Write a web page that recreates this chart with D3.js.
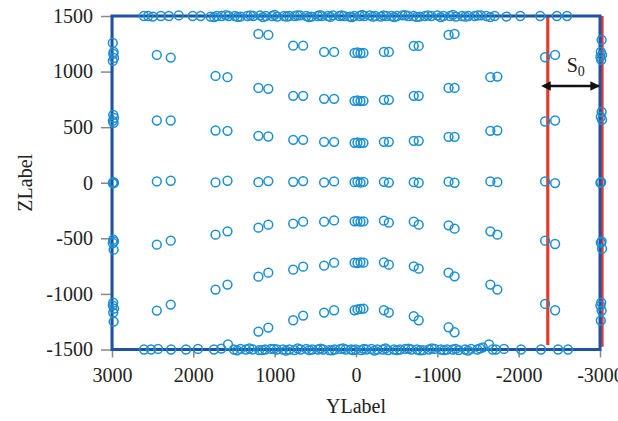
<!DOCTYPE html>
<html>
<head>
<meta charset="utf-8">
<script src="https://cdn.jsdelivr.net/npm/d3@7"></script>
<style>
  html, body { margin: 0; padding: 0; background: #fff; }
  svg text { font-family: "Liberation Serif", "DejaVu Serif", serif; fill: #222; }
</style>
</head>
<body>
<svg id="chart" width="618" height="421"></svg>
<script>
// tick labels
const yTicks = [3000, 2000, 1000, 0, -1000, -2000, -3000];
const zTicks = [1500, 1000, 500, 0, -500, -1000, -1500];

// Y of the inner point columns (pairs, plus the centre cluster)
const colY = [2449, 2278, 1727, 1580, 1200, 1078, 772, 650, 392, 269,
  18, -18, -55, -92, -343, -404, -710, -771, -1138, -1212, -1652, -1738, -2325, -2448];

// Z of each ring row for every column (null = no point)
const zTop3 = [null, null, null, null, 1339, 1330, 1233, 1233, 1177, 1177,
  1168, 1172, 1165, 1168, 1177, 1177, 1231, 1231, 1330, 1339, null, null, null, null];
const zTop2 = [1150, 1126, 961, 950, 853, 845, 782, 782, 755, 755,
  737, 740, 735, 737, 746, 746, 782, 782, 853, 853, 950, 955, 1129, 1150];
const zTop1 = [560, 560, 470, 467, 422, 416, 386, 386, 368, 368,
  359, 362, 356, 359, 368, 368, 377, 377, 413, 413, 467, 470, 551, 560];
const zMid = [12, 18, 3, 18, 5, 15, 8, 15, 3, 12,
  5, 10, 2, 8, 8, 2, 5, 0, 10, 0, 12, 5, 12, -3];
const zBot1 = [-557, -521, -467, -437, -404, -377, -368, -350, -350, -339,
  -347, -345, -350, -347, -341, -359, -350, -377, -383, -413, -437, -467, -521, -551];
const zBot2 = [-1150, -1096, -961, -916, -845, -809, -782, -755, -746, -719,
  -719, -722, -716, -719, -716, -737, -752, -773, -809, -842, -916, -961, -1090, -1147];
const zBot3 = [null, null, null, null, -1339, -1303, -1237, -1195, -1168, -1147,
  -1147, -1140, -1135, -1132, -1147, -1168, -1201, -1237, -1300, -1345, null, null, null, null];

// points stacked on the left and right walls
const leftEdgeY = [2990, 2980, 2985, 2975, 2990, 2985, 2975, 2990, 2980, 2985, 2975, 2990,
  2985, 2975, 2990, 2980, 2985, 2990, 2975, 2985, 2980];
const leftEdgeZ = [1258, 1177, 1159, 1123, 1096, 611, 584, 557, 539, 5, 0,
  -5, -512, -527, -542, -602, -1078, -1105, -1132, -1168, -1249];
const rightEdgeY = [-3020, -3010, -3025, -3005, -3015, -3020, -3010, -3025, -3015, -3005,
  -3020, -3010, -3025, -3015, -3005, -3020, -3010];
const rightEdgeZ = [1285, 1177, 1150, 1132, 1105, 638, 593, 566, 5, 0,
  -527, -539, -593, -1078, -1105, -1150, -1240];

// points along the top and bottom walls
const topEdgeY = [2608, 2555, 2498, 2400, 2302, 2180, 2008, 1911, 1788, 1712, 1650, 1566, 1490,
  1421, 1335, 1262, 1180, 1108, 1032, 968, 885, 821, 752, 688, 611, 548, 470, 418, 346, 282,
  205, 148, 77, 22, -46, -104, -171, -238, -305, -372, -436, -503, -571, -640, -706, -781,
  -848, -925, -1002, -1076, -1155, -1228, -1305, -1382, -1458, -1534, -1603, -1705, -1850,
  -2020, -2265, -2470, -2595];
const topEdgeZ = [1500, 1500, 1495, 1500, 1500, 1505, 1500, 1500, 1495, 1500, 1500, 1500, 1500,
  1495, 1500, 1500, 1505, 1500, 1500, 1495, 1500, 1500, 1500, 1505, 1500, 1495, 1500, 1500,
  1500, 1505, 1500, 1500, 1495, 1500, 1500, 1500, 1505, 1500, 1495, 1500, 1500, 1500, 1505,
  1500, 1500, 1495, 1500, 1500, 1505, 1500, 1500, 1495, 1500, 1500, 1500, 1505, 1500, 1500,
  1495, 1500, 1500, 1500, 1500];
// extra points in the crowded middle part of the top wall
const topDenseY = [1745, 1602, 1455, 1298, 1144, 1000, 853, 720, 580, 444, 314, 176, 50,
  -75, -205, -338, -470, -605, -744, -885, -1040, -1192, -1344, -1496, -1650];
const topDenseZ = [1490, 1508, 1492, 1506, 1490, 1510, 1494, 1506, 1490, 1508, 1492, 1506,
  1490, 1510, 1494, 1506, 1490, 1508, 1492, 1506, 1490, 1510, 1494, 1506, 1490];

const bottomEdgeY = [2606, 2520, 2434, 2274, 2090, 1943, 1746, 1574, 1500, 1420, 1352, 1268,
  1190, 1118, 1046, 974, 898, 820, 756, 682, 610, 540, 468, 404, 330, 262, 190, 128, 60, 4,
  -62, -128, -190, -262, -330, -396, -468, -540, -606, -680, -752, -826, -898, -968, -1044,
  -1118, -1190, -1262, -1340, -1416, -1492, -1560, -1636, -1720, -1820, -2030, -2275, -2485, -2607];
const bottomEdgeZ = [-1500, -1500, -1495, -1500, -1500, -1495, -1500, -1455, -1500, -1495,
  -1500, -1500, -1505, -1500, -1495, -1500, -1500, -1500, -1505, -1500, -1495, -1500, -1500,
  -1500, -1505, -1500, -1495, -1500, -1500, -1500, -1505, -1500, -1495, -1500, -1500, -1505,
  -1500, -1500, -1495, -1500, -1500, -1505, -1500, -1495, -1500, -1500, -1500, -1505, -1500,
  -1495, -1500, -1480, -1455, -1500, -1495, -1500, -1500, -1500, -1500];
const bottomDenseY = [1656, 1460, 1310, 1154, 1010, 860, 718, 575, 436, 296, 159, 32,
  -95, -226, -363, -504, -643, -789, -933, -1081, -1226, -1378, -1526, -1680];
const bottomDenseZ = [-1492, -1508, -1490, -1506, -1494, -1510, -1490, -1506, -1492, -1508,
  -1490, -1506, -1494, -1510, -1490, -1506, -1492, -1508, -1490, -1506, -1494, -1510, -1490, -1500];

// annotation: S0 spacing between the two red lines
const s0Left = -2358;
const s0Right = -3025;
const s0RedTopZ = 1500;
const s0RedBottomZ = [-1460, -1475];
const s0ArrowZ = 870;
const s0LabelY = -2590;
const s0LabelZ = 1000;

// collect all points
const points = [];
[zTop3, zTop2, zTop1, zMid, zBot1, zBot2, zBot3].forEach(row => {
  row.forEach((z, i) => { if (z !== null) points.push({ y: colY[i], z: z }); });
});
leftEdgeZ.forEach((z, i) => points.push({ y: leftEdgeY[i], z: z }));
rightEdgeZ.forEach((z, i) => points.push({ y: rightEdgeY[i], z: z }));
topEdgeY.forEach((y, i) => points.push({ y: y, z: topEdgeZ[i] }));
topDenseY.forEach((y, i) => points.push({ y: y, z: topDenseZ[i] }));
bottomEdgeY.forEach((y, i) => points.push({ y: y, z: bottomEdgeZ[i] }));
bottomDenseY.forEach((y, i) => points.push({ y: y, z: bottomDenseZ[i] }));

const svg = d3.select('#chart');

const x = d3.scaleLinear().domain([3000, -3000]).range([112, 600]);
const y = d3.scaleLinear().domain([-1500, 1500]).range([349.5, 16]);

// axes (gray)
const xAxis = svg.append('g')
  .attr('transform', `translate(0,${y(-1500)})`)
  .call(d3.axisBottom(x).tickValues(yTicks).tickFormat(d => String(d)).tickSize(8).tickSizeOuter(0).tickPadding(10));
const zAxis = svg.append('g')
  .attr('transform', `translate(${x(3000)},0)`)
  .call(d3.axisLeft(y).tickValues(zTicks).tickFormat(d => String(d)).tickSize(11).tickSizeOuter(0).tickPadding(8));

[xAxis, zAxis].forEach(g => {
  g.select('.domain').attr('stroke', '#888').attr('stroke-width', 1.5);
  g.selectAll('.tick line').attr('stroke', '#888').attr('stroke-width', 1.5);
  g.selectAll('.tick text')
    .attr('font-family', '"Liberation Serif", serif')
    .attr('font-size', 20)
    .attr('fill', '#222');
});

// red S0 lines
svg.append('line')
  .attr('x1', x(s0Left)).attr('x2', x(s0Left))
  .attr('y1', y(s0RedTopZ)).attr('y2', y(s0RedBottomZ[0]))
  .attr('stroke', '#e8392b').attr('stroke-width', 3.2);
svg.append('line')
  .attr('x1', x(s0Right)).attr('x2', x(s0Right))
  .attr('y1', y(s0RedTopZ)).attr('y2', y(s0RedBottomZ[1]))
  .attr('stroke', '#e8392b').attr('stroke-width', 3.2);

// blue frame
svg.append('rect')
  .attr('x', x(3000)).attr('y', y(1500))
  .attr('width', x(-3000) - x(3000))
  .attr('height', y(-1500) - y(1500))
  .attr('fill', 'none')
  .attr('stroke', '#1f52a3')
  .attr('stroke-width', 3);

// points
svg.append('g')
  .selectAll('circle')
  .data(points)
  .enter()
  .append('circle')
  .attr('cx', d => x(d.y))
  .attr('cy', d => y(d.z))
  .attr('r', 4.4)
  .attr('fill', 'none')
  .attr('stroke', '#1a8fd3')
  .attr('stroke-width', 1.5);

// double arrow
const defs = svg.append('defs');
['start', 'end'].forEach(k => {
  defs.append('marker')
    .attr('id', 'arr-' + k)
    .attr('viewBox', '0 0 10 10')
    .attr('refX', k === 'end' ? 9 : 1).attr('refY', 5)
    .attr('markerWidth', 4).attr('markerHeight', 4)
    .attr('markerUnits', 'strokeWidth')
    .attr('orient', 'auto-start-reverse')
    .append('path')
    .attr('d', 'M0,0 L10,5 L0,10 z')
    .attr('fill', '#111');
});
svg.append('line')
  .attr('x1', x(s0Left) + 2).attr('x2', x(-3000) - 1)
  .attr('y1', y(s0ArrowZ)).attr('y2', y(s0ArrowZ))
  .attr('stroke', '#111').attr('stroke-width', 2.4)
  .attr('marker-start', 'url(#arr-start)')
  .attr('marker-end', 'url(#arr-end)');

const s0 = svg.append('text')
  .attr('x', x(s0LabelY)).attr('y', y(s0LabelZ))
  .attr('font-size', 20);
s0.append('tspan').text('S');
s0.append('tspan').attr('font-size', 14).attr('dy', 4).text('0');

// axis titles
svg.append('text')
  .attr('x', x(0)).attr('y', 413)
  .attr('text-anchor', 'middle')
  .attr('font-size', 20)
  .text('YLabel');
svg.append('text')
  .attr('transform', `translate(32,${y(0)}) rotate(-90)`)
  .attr('text-anchor', 'middle')
  .attr('font-size', 20)
  .text('ZLabel');
</script>
</body>
</html>
